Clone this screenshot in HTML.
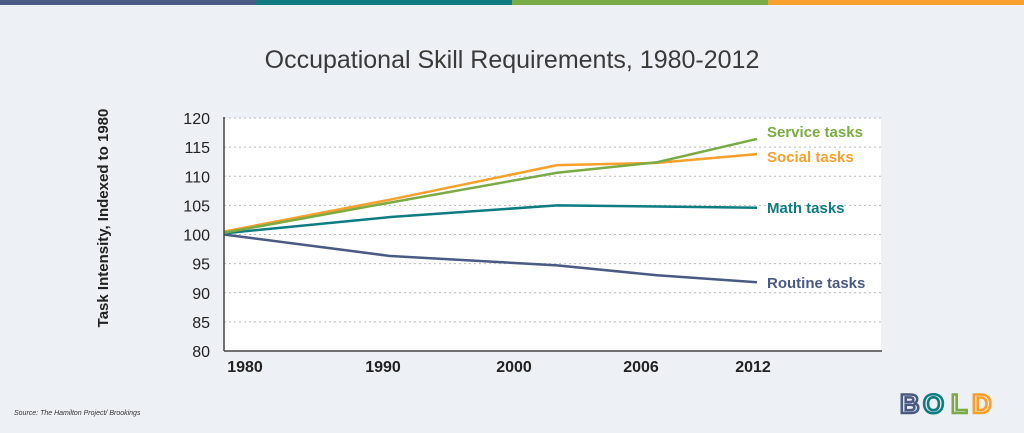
<!DOCTYPE html>
<html><head><meta charset="utf-8"><style>
body{margin:0;width:1024px;height:428px;background:#edf0f4;overflow:hidden;font-family:"Liberation Sans",sans-serif}
</style></head><body>
<svg width="1024" height="428">
<rect x="0" y="0" width="256" height="5" fill="#4a5a82"/>
<rect x="256" y="0" width="256" height="5" fill="#0e7c80"/>
<rect x="512" y="0" width="256" height="5" fill="#7aab44"/>
<rect x="768" y="0" width="256" height="5" fill="#f7a02c"/>
<text x="512" y="68" text-anchor="middle" font-size="25" fill="#3a3a3a">Occupational Skill Requirements, 1980-2012</text>
<text transform="translate(108,218) rotate(-90)" text-anchor="middle" font-size="15" font-weight="bold" fill="#222">Task Intensity, Indexed to 1980</text>
<rect x="224" y="118" width="657" height="233" fill="#fff"/>
<g id="grid"></g><g id="lines"></g><g id="labels"></g>
<line x1="224" y1="117" x2="224" y2="351" stroke="#444" stroke-width="1.5"/>
<line x1="224" y1="351" x2="882" y2="351" stroke="#444" stroke-width="1.5"/>
<text x="14" y="415" font-size="7" font-style="italic" fill="#333">Source: The Hamilton Project/ Brookings</text>
<g font-size="27" font-weight="bold" fill="none" stroke-width="2.6">
<text x="900" y="413" stroke="#4a5a82">B</text><text x="923" y="413" stroke="#0e7c80">O</text><text x="951" y="413" stroke="#7aab44">L</text><text x="972" y="413" stroke="#f7a02c">D</text>
</g>
</svg>
<script>
const years=[1980,1990,2000,2006,2012];
const tickLabels=["1980","1990","2000","2006","2012"];
const yTicks=[80,85,90,95,100,105,110,115,120];
const routine=[100,96.3,94.7,93,91.8];
const math=[100.2,103,105,104.8,104.6];
const social=[100.5,106,111.9,112.3,113.8];
const service=[100.3,105.5,110.6,112.4,116.4];
const names=["Routine tasks","Math tasks","Social tasks","Service tasks"];
const NS="http://www.w3.org/2000/svg";
const xS=y=>224+(y-1980)*(757-224)/32;
const yS=v=>118+(120-v)*(233/40);
const labelX=[245,383,514,641,753];
const grid=document.getElementById('grid'),lines=document.getElementById('lines'),labels=document.getElementById('labels');
function mk(tag,attrs,parent,txt){const e=document.createElementNS(NS,tag);for(const k in attrs)e.setAttribute(k,attrs[k]);if(txt!==undefined)e.textContent=txt;parent.appendChild(e);return e;}
yTicks.forEach(v=>{
 if(v>80){const l=mk('line',{x1:224,x2:881,y1:yS(v),y2:yS(v),stroke:'#bbb','stroke-dasharray':'2,3'},grid);
 
 }
 const t=mk('text',{x:210,y:yS(v)+6,'text-anchor':'end','font-size':16,fill:'#222'},labels,String(v));
 
 
});
tickLabels.forEach((s,i)=>{
 const t=mk('text',{x:labelX[i],y:372,'text-anchor':'middle','font-size':16,'font-weight':'bold',fill:'#222'},labels,s);
 
 
});
const series=[routine,math,social,service];
const colors=["#4a5a82","#0e7c80","#f7a02c","#7aab44"];
const labY=[288,213,162,137];
series.forEach((d,si)=>{
 const p=mk('polyline',{points:d.map((v,i)=>xS(years[i])+','+yS(v)).join(' '),fill:'none',stroke:colors[si],'stroke-width':2.5},lines);
 
 
 const t=mk('text',{x:767,y:labY[si],'font-size':15,'font-weight':'bold',fill:colors[si]},labels,names[si]);
 
 
});
</script>
</body></html>
